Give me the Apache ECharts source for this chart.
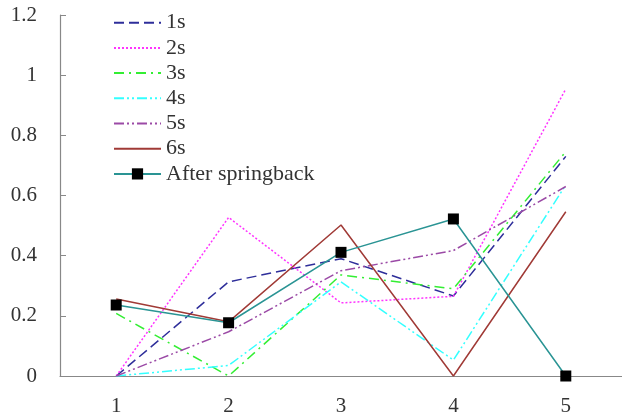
<!DOCTYPE html>
<html><head><meta charset="utf-8">
<script src="https://cdn.jsdelivr.net/npm/echarts@6/dist/echarts.min.js"></script>
<style>html,body{margin:0;padding:0;background:#fff}#c{width:622px;height:419px}</style>
</head><body><div id="c"></div>
<script>
const categories = ['1','2','3','4','5'];
const s1 = [0, 0.313, 0.39, 0.266, 0.73];
const s2 = [0, 0.527, 0.243, 0.265, 0.954];
const s3 = [0.208, 0, 0.336, 0.29, 0.746];
const s4 = [0, 0.035, 0.313, 0.053, 0.635];
const s5 = [0, 0.147, 0.35, 0.417, 0.63];
const s6 = [0.256, 0.18, 0.502, 0, 0.546];
const after = [0.236, 0.177, 0.411, 0.522, 0];
const names = ['1s','2s','3s','4s','5s','6s','After springback'];

const font = 'Liberation Serif';
function line(name, data, color, type) {
  return {name, type:'line', data, symbol:'none', lineStyle:{color, width:1.5, type}, itemStyle:{color}};
}
const chart = echarts.init(document.getElementById('c'));
chart.setOption({
  animation:false,
  grid:{left:60, right:0, top:15, bottom:43},
  legend:{
    orient:'vertical', left:108, top:6.7, itemWidth:47, itemHeight:14, itemGap:3.2,
    textStyle:{fontFamily:font, fontSize:22, color:'#333'},
    data:names.map((n,i)=> i<6 ? {name:n, itemStyle:{opacity:0}} : {name:n})
  },
  xAxis:{
    type:'category', data:categories, boundaryGap:true,
    axisLine:{lineStyle:{color:'#888', width:1.2}},
    axisTick:{inside:true, length:6, lineStyle:{color:'#888'}},
    axisLabel:{fontFamily:font, fontSize:21, color:'#333', margin:20}
  },
  yAxis:{
    type:'value', min:0, max:1.2, interval:0.2,
    splitLine:{show:false},
    axisLine:{show:true, lineStyle:{color:'#888', width:1.2}},
    axisTick:{show:true, inside:true, length:6, lineStyle:{color:'#888'}},
    axisLabel:{fontFamily:font, fontSize:21, color:'#333', margin:23,
      formatter:v=>String(Math.round(v*10)/10)}
  },
  series:[
    line('1s', s1, '#2e2e9a', [10,5]),
    line('2s', s2, '#ff33ff', [2,2]),
    line('3s', s3, '#33ee33', [10,5,2,5]),
    line('4s', s4, '#33ffff', [10,3,2,3,2,3]),
    line('5s', s5, '#9b4aa6', [10,3,2,3,2,3]),
    line('6s', s6, '#a03a36', 'solid'),
    {name:'After springback', type:'line', data:after, symbol:'rect', symbolSize:11,
      lineStyle:{color:'#2a9494', width:1.5}, itemStyle:{color:'#000'}}
  ]
});
</script></body></html>
